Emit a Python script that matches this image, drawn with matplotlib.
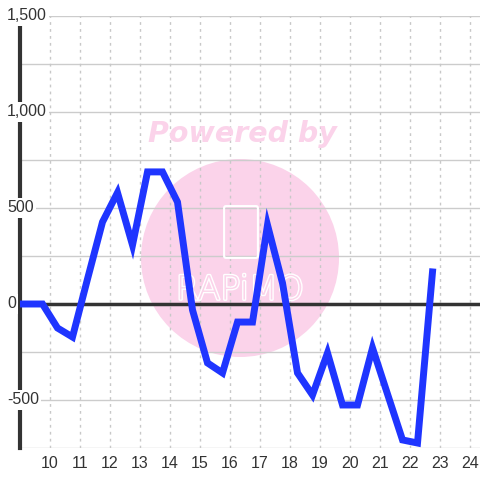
import matplotlib.pyplot as plt
import matplotlib.patheffects as pe
from matplotlib.patches import Circle, FancyBboxPatch

# readings taken every half hour
hours = [8.75, 9.25, 9.75, 10.25, 10.75, 11.25, 11.75, 12.25, 12.75, 13.25,
         13.75, 14.25, 14.75, 15.25, 15.75, 16.25, 16.75, 17.25, 17.75, 18.25,
         18.75, 19.25, 19.75, 20.25, 20.75, 21.25, 21.75, 22.25, 22.75]
values = [0, 0, 0, -125, -172, 130, 427, 580, 307, 688,
          688, 531, -31, -307, -359, -94, -94, 411, 109, -359,
          -474, -255, -526, -526, -229, -469, -708, -724, 167]
x_ticks = list(range(10, 25))
y_ticks = [-500, 0, 500, 1000, 1500]

label_font = "Liberation Sans"

fig = plt.figure(figsize=(4.8, 4.8), dpi=100)
ax = fig.add_axes([20 / 480, 32 / 480, 460 / 480, 432 / 480])

ax.set_xlim(9.0, 24.333)
ax.set_ylim(-750, 1500)

# grid
for t in range(-750, 1501, 250):
    ax.axhline(t, color="#cccccc", lw=1, zorder=1)
for t in x_ticks:
    ax.axvline(t, color="#c8c8c8", lw=1, ls=(0, (2, 3)), zorder=1)

# watermark (drawn in figure coords so the circle stays round)
wm_color = "#fbd3ea"
ax.add_patch(Circle((240 / 480, 1 - 258 / 480), 99 / 480, transform=fig.transFigure,
                    color=wm_color, zorder=0.5, lw=0))
ax.add_patch(FancyBboxPatch((226 / 480, 1 - 256 / 480), 30 / 480, 48 / 480,
                            transform=fig.transFigure,
                            boxstyle="round,pad=0.004", fc="none", ec="white",
                            lw=1.5, zorder=1.5))
logo = ax.text(240 / 480, 1 - 290 / 480, "RAPiMO", transform=fig.transFigure,
               ha="center", va="center", fontsize=24, color=wm_color,
               family="DejaVu Sans", fontweight="light", zorder=1.5)
logo.set_path_effects([pe.withStroke(linewidth=2, foreground="white")])
ax.text(242 / 480, 1 - 134 / 480, "Powered by", transform=fig.transFigure,
        ha="center", va="center", fontsize=20.5, color=wm_color,
        fontweight="bold", style="italic", zorder=1.5)

# zero line
ax.axhline(0, color="#333333", lw=2.5, zorder=2)

ax.plot(hours, values, color="#1f35ff", lw=5, zorder=3, solid_joinstyle="miter")

for s in ["top", "right", "bottom"]:
    ax.spines[s].set_visible(False)
ax.spines["left"].set_color("#333333")
ax.spines["left"].set_linewidth(3)
ax.spines["left"].set_zorder(2)

ax.set_xticks(x_ticks)
ax.set_xticklabels([str(t) for t in x_ticks], family=label_font)
ax.tick_params(axis="x", length=0, labelsize=11.5, labelcolor="#333333", pad=6)
ax.set_yticks([])

# y labels sit on top of the spine with a white background
for t in y_ticks:
    ax.text(-0.028, t, "{:,}".format(t), transform=ax.get_yaxis_transform(),
            ha="left", va="center", fontsize=11.5, color="#333333", zorder=5,
            family=label_font,
            bbox=dict(fc="white", ec="none", pad=1.5), clip_on=False)

fig.savefig("out.png", dpi=100, facecolor="white")
